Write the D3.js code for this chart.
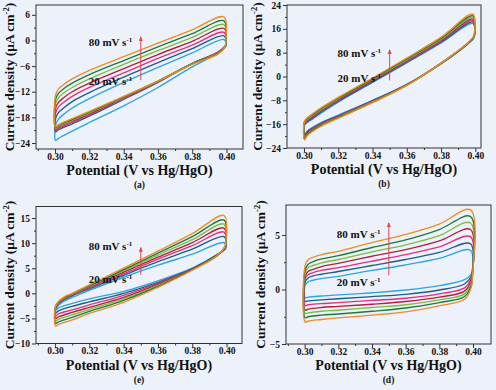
<!DOCTYPE html>
<html>
<head>
<meta charset="utf-8">
<script src="https://cdn.jsdelivr.net/npm/d3@7"></script>
<style>
    body { margin: 0; background: #edf1fa; }
    svg { display: block; }
    text { font-family: "Liberation Serif", "Times New Roman", serif; font-weight: bold; fill: #111; }
</style>
</head>
<body>
<svg id="my_svg_element" width="496" height="390"></svg>
<script>
// ---------------------------  DATA  ---------------------------
const scan_rates = [20, 30, 40, 50, 60, 70, 80];   // mV s-1
const series_colors = ["#2ba6e1", "#1f5c86", "#e3307d", "#b3213f", "#7cbd3e", "#1c7a3c", "#f28a22"];

// potentials (V vs Hg/HgO) of the anodic (forward) and cathodic (reverse) sweeps
const pot_forward = [0.3003, 0.302, 0.305, 0.31, 0.32, 0.34, 0.36, 0.38, 0.3985];
const pot_reverse = [0.3997, 0.399, 0.395, 0.38, 0.36, 0.34, 0.32, 0.31, 0.302, 0.3003];

// current density (uA cm-2), one row per scan rate (20 ... 80)
const a_forward = [
    [-19.8, -18.4, -17.3, -15.8, -13.6, -9.8, -6.3, -2.9, 0.2],
    [-18.3, -16.9, -15.8, -14.3, -12.2, -8.6, -5.2, -1.9, 1.1],
    [-17.0, -15.6, -14.5, -13.1, -11.0, -7.6, -4.2, -1.1, 1.9],
    [-15.9, -14.5, -13.4, -12.0, -10.0, -6.6, -3.3, -0.2, 2.8],
    [-14.8, -13.4, -12.3, -11.0, -9.0, -5.6, -2.4, 0.7, 3.7],
    [-13.8, -12.4, -11.3, -10.0, -8.0, -4.7, -1.5, 1.6, 4.6],
    [-12.8, -11.4, -10.3, -9.0, -7.0, -3.8, -0.6, 2.5, 5.5]
];
const a_reverse = [
    [-1.2, -1.7, -3.0, -6.2, -11.0, -15.3, -19.2, -21.2, -22.9, -23.4],
    [-1.0, -1.4, -2.7, -5.4, -9.8, -13.8, -17.7, -19.5, -20.9, -21.4],
    [-0.9, -1.4, -2.8, -5.4, -9.7, -13.6, -17.4, -19.2, -20.6, -21.1],
    [-0.7, -1.5, -2.9, -5.4, -9.6, -13.4, -17.2, -18.9, -20.3, -20.8],
    [-0.4, -1.5, -3.0, -5.4, -9.5, -13.3, -17.0, -18.7, -20.1, -20.6],
    [0.0, -1.6, -3.1, -5.5, -9.5, -13.2, -16.8, -18.5, -19.9, -20.4],
    [0.5, -1.6, -3.2, -5.6, -9.5, -13.1, -16.6, -18.3, -19.7, -20.2]
];

const b_forward = [
    [-16.5, -15.4, -14.3, -12.3, -8.6, -2.0, 4.6, 11.3, 17.8],
    [-16.2, -15.1, -14.0, -11.9, -8.3, -1.8, 4.8, 11.5, 18.3],
    [-15.9, -14.8, -13.7, -11.6, -8.0, -1.5, 5.1, 11.8, 18.8],
    [-15.7, -14.6, -13.4, -11.4, -7.8, -1.3, 5.4, 12.1, 19.3],
    [-15.5, -14.3, -13.1, -11.1, -7.5, -1.0, 5.6, 12.4, 19.9],
    [-15.2, -14.0, -12.8, -10.8, -7.3, -0.8, 5.9, 12.8, 20.4],
    [-15.0, -13.8, -12.5, -10.5, -7.0, -0.5, 6.2, 13.2, 21.0]
];
const b_reverse = [
    [14.8, 12.9, 10.7, 4.3, -2.6, -8.0, -13.0, -15.5, -18.3, -19.6],
    [15.0, 13.0, 10.7, 4.3, -2.7, -8.1, -13.2, -15.7, -18.5, -19.8],
    [15.2, 13.1, 10.8, 4.4, -2.8, -8.3, -13.4, -15.9, -18.8, -20.1],
    [15.4, 13.2, 10.8, 4.4, -2.8, -8.4, -13.5, -16.1, -19.0, -20.4],
    [15.6, 13.3, 10.9, 4.4, -2.9, -8.5, -13.7, -16.3, -19.3, -20.7],
    [15.8, 13.4, 10.9, 4.5, -2.9, -8.7, -13.8, -16.5, -19.5, -21.0],
    [16.0, 13.5, 11.0, 4.5, -3.0, -8.8, -14.0, -16.7, -19.8, -21.3]
];

const c_forward = [
    [-3.3, -2.4, -1.6, -0.8, 0.6, 3.2, 5.6, 7.8, 10.1],
    [-3.0, -2.1, -1.3, -0.5, 0.9, 3.6, 6.3, 8.8, 11.3],
    [-2.9, -2.0, -1.2, -0.4, 1.1, 3.9, 6.8, 9.5, 12.2],
    [-2.8, -1.9, -1.1, -0.3, 1.3, 4.2, 7.2, 10.1, 13.0],
    [-2.7, -1.8, -1.0, -0.2, 1.4, 4.5, 7.6, 10.7, 13.8],
    [-2.6, -1.7, -0.9, -0.1, 1.5, 4.7, 8.0, 11.3, 14.6],
    [-2.5, -1.6, -0.8, 0.0, 1.7, 5.0, 8.4, 11.9, 15.5]
];
const c_reverse = [
    [9.2, 8.7, 7.8, 5.0, 2.5, 0.4, -1.1, -2.0, -2.9, -3.4],
    [9.4, 8.8, 7.8, 4.9, 2.2, 0.0, -1.7, -2.6, -3.5, -3.9],
    [9.7, 8.9, 7.7, 4.8, 2.0, -0.4, -2.3, -3.3, -4.1, -4.5],
    [9.9, 9.0, 7.7, 4.8, 1.8, -0.8, -2.8, -3.8, -4.7, -5.0],
    [10.1, 9.1, 7.7, 4.7, 1.6, -1.1, -3.2, -4.3, -5.2, -5.5],
    [10.3, 9.2, 7.6, 4.7, 1.4, -1.4, -3.6, -4.8, -5.7, -6.0],
    [10.5, 9.3, 7.6, 4.6, 1.2, -1.8, -4.0, -5.3, -6.2, -6.5]
];

const d_forward = [
    [0.4, 0.7, 0.85, 1.0, 1.2, 1.75, 2.25, 2.85, 3.6],
    [0.7, 1.05, 1.25, 1.4, 1.65, 2.2, 2.75, 3.4, 4.2],
    [1.0, 1.35, 1.55, 1.75, 2.0, 2.6, 3.2, 3.9, 4.85],
    [1.2, 1.65, 1.85, 2.1, 2.4, 3.05, 3.65, 4.45, 5.5],
    [1.5, 2.0, 2.2, 2.45, 2.75, 3.45, 4.1, 4.95, 6.1],
    [1.8, 2.3, 2.55, 2.8, 3.1, 3.85, 4.55, 5.5, 6.7],
    [2.2, 2.7, 2.95, 3.2, 3.5, 4.3, 5.05, 6.0, 7.3]
];
const d_reverse = [
    [1.9, 1.4, 0.9, 0.35, -0.05, -0.3, -0.5, -0.6, -0.7, -0.75],
    [1.75, 1.2, 0.5, -0.05, -0.45, -0.65, -0.85, -0.95, -1.05, -1.1],
    [1.6, 1.0, 0.15, -0.4, -0.8, -1.0, -1.2, -1.3, -1.4, -1.5],
    [1.5, 0.8, -0.15, -0.7, -1.1, -1.35, -1.55, -1.65, -1.8, -1.9],
    [1.4, 0.6, -0.4, -0.95, -1.4, -1.65, -1.9, -2.0, -2.15, -2.2],
    [1.3, 0.4, -0.65, -1.2, -1.7, -2.0, -2.25, -2.35, -2.5, -2.6],
    [1.2, 0.2, -0.9, -1.5, -2.05, -2.35, -2.6, -2.75, -2.9, -3.0]
];

// tick values
const x_ticks = [0.30, 0.32, 0.34, 0.36, 0.38, 0.40];
const x_minor_ticks = [0.29, 0.31, 0.33, 0.35, 0.37, 0.39];
const a_y_ticks = [-24, -18, -12, -6, 0, 6];
const a_y_minor = [-21, -15, -9, -3, 3];
const b_y_ticks = [-24, -16, -8, 0, 8, 16, 24];
const b_y_minor = [-20, -12, -4, 4, 12, 20];
const c_y_ticks = [-10, -5, 0, 5, 10, 15];
const c_y_minor = [-7.5, -2.5, 2.5, 7.5, 12.5];
const d_y_ticks = [-5, 0, 5];
const d_y_minor = [-2.5, 2.5];

const panel_labels = ["(a)", "(b)", "(e)", "(d)"];

// ---------------------------  LAYOUT  ---------------------------
const panels = [
    { name: "a", label: panel_labels[0], left: 36, right: 243, top: 5, bottom: 149,
      x_domain: [0.2889, 0.4096], y_domain: [-25.4, 8.3],
      fwd: a_forward, rev: a_reverse, y_ticks: a_y_ticks, y_minor: a_y_minor,
      arrow: [-9.3, 0.8], note_hi: -1.3, note_lo: -10.4, title_x: 14 },
    { name: "b", label: panel_labels[1], left: 287, right: 481, top: 5, bottom: 148,
      x_domain: [0.2901, 0.4033], y_domain: [-24, 24],
      fwd: b_forward, rev: b_reverse, y_ticks: b_y_ticks, y_minor: b_y_minor,
      arrow: [-1.3, 8.9], note_hi: 6.7, note_lo: -2.0, title_x: 262 },
    { name: "c", label: panel_labels[2], left: 36, right: 242, top: 206.5, bottom: 343.5,
      x_domain: [0.2889, 0.4090], y_domain: [-10, 17.3],
      fwd: c_forward, rev: c_reverse, y_ticks: c_y_ticks, y_minor: c_y_minor,
      arrow: [3.7, 9.1], note_hi: 8.7, note_lo: 2.1, title_x: 14 },
    { name: "d", label: panel_labels[3], left: 286, right: 491, top: 205, bottom: 344,
      x_domain: [0.2889, 0.4107], y_domain: [-5, 7.75],
      fwd: d_forward, rev: d_reverse, y_ticks: d_y_ticks, y_minor: d_y_minor,
      arrow: [1.3, 6.1], note_hi: 4.7, note_lo: 0.33, title_x: 265 }
];

const svg = d3.select("#my_svg_element");

// arrow head marker
svg.append("defs").append("marker")
    .attr("id", "arrow_head")
    .attr("viewBox", "0 0 10 10").attr("refX", 8).attr("refY", 5)
    .attr("markerWidth", 5).attr("markerHeight", 6).attr("orient", "auto")
    .append("path").attr("d", "M0,1 L10,5 L0,9 Z").attr("fill", "#e0474f");

function add_rate_note(g, x, y, rate, v, j)
{
    const t = g.append("text")
        .attr("x", x(v)).attr("y", y(j))
        .attr("text-anchor", "end")
        .attr("font-size", 11);
    t.append("tspan").text(rate + " mV s");
    t.append("tspan").attr("dy", -4).attr("font-size", 7).text("-1");
}

function draw_panel(p)
{
    const x = d3.scaleLinear().domain(p.x_domain).range([p.left, p.right]);
    const y = d3.scaleLinear().domain(p.y_domain).range([p.bottom, p.top]);
    const g = svg.append("g");

    const clip_id = "clip_" + p.name;
    svg.select("defs").append("clipPath").attr("id", clip_id)
        .append("rect")
        .attr("x", p.left).attr("y", p.top)
        .attr("width", p.right - p.left).attr("height", p.bottom - p.top);

    // CV loops, 20 mV/s first so 80 mV/s ends up on top
    const loop = d3.line()
        .x(d => x(d[0]))
        .y(d => y(d[1]))
        .curve(d3.curveCatmullRomClosed.alpha(0.5));

    const curves = g.append("g").attr("clip-path", `url(#${clip_id})`);
    scan_rates.forEach((rate, i) => {
        const pts = pot_forward.map((v, k) => [v, p.fwd[i][k]])
            .concat(pot_reverse.map((v, k) => [v, p.rev[i][k]]));
        curves.append("path")
            .attr("d", loop(pts))
            .attr("fill", "none")
            .attr("stroke", series_colors[i])
            .attr("stroke-width", 1.35);
    });

    // X axis (major + minor)
    g.append("g")
        .attr("transform", `translate(0,${p.bottom})`)
        .call(d3.axisBottom(x).tickValues(x_ticks).tickSize(4).tickPadding(0).tickFormat(d3.format(".2f")));
    g.append("g")
        .attr("transform", `translate(0,${p.bottom})`)
        .call(d3.axisBottom(x).tickValues(x_minor_ticks.filter(v => v > p.x_domain[0])).tickSize(2).tickFormat(""));

    // Y axis (major + minor)
    g.append("g")
        .attr("transform", `translate(${p.left},0)`)
        .call(d3.axisLeft(y).tickValues(p.y_ticks).tickSize(4).tickPadding(2).tickFormat(d3.format("d")));
    g.append("g")
        .attr("transform", `translate(${p.left},0)`)
        .call(d3.axisLeft(y).tickValues(p.y_minor).tickSize(2).tickFormat(""));

    g.selectAll(".domain").remove();
    g.selectAll(".tick line").attr("stroke", "#333");
    g.selectAll(".tick text")
        .attr("font-size", 9.5)
        .attr("font-family", "Liberation Serif, Times New Roman, serif")
        .attr("font-weight", "bold")
        .attr("fill", "#111");

    // frame
    g.append("rect")
        .attr("x", p.left).attr("y", p.top)
        .attr("width", p.right - p.left).attr("height", p.bottom - p.top)
        .attr("fill", "none").attr("stroke", "#333").attr("stroke-width", 1);

    // scan-rate arrow and notes
    g.append("line")
        .attr("x1", x(0.35)).attr("x2", x(0.35))
        .attr("y1", y(p.arrow[0])).attr("y2", y(p.arrow[1]))
        .attr("stroke", "#e0474f").attr("stroke-width", 1)
        .attr("marker-end", "url(#arrow_head)");
    add_rate_note(g, x, y, 80, 0.345, p.note_hi);
    add_rate_note(g, x, y, 20, 0.345, p.note_lo);

    // axis titles
    const cx = (p.left + p.right) / 2;
    const cy = (p.top + p.bottom) / 2;
    g.append("text")
        .attr("x", cx).attr("y", p.bottom + 26)
        .attr("text-anchor", "middle")
        .attr("font-size", 14)
        .text("Potential (V vs Hg/HgO)");

    const yt = g.append("text")
        .attr("transform", `translate(${p.title_x},${cy}) rotate(-90)`)
        .attr("text-anchor", "middle")
        .attr("font-size", 13.5);
    yt.append("tspan").text("Current density (μA cm");
    yt.append("tspan").attr("dy", -5).attr("font-size", 8.5).text("-2");
    yt.append("tspan").attr("dy", 5).text(")");

    // panel label
    g.append("text")
        .attr("x", cx).attr("y", p.bottom + 39)
        .attr("text-anchor", "middle")
        .attr("font-size", 9.5)
        .text(p.label);
}

panels.forEach(draw_panel);
</script>
</body>
</html>
